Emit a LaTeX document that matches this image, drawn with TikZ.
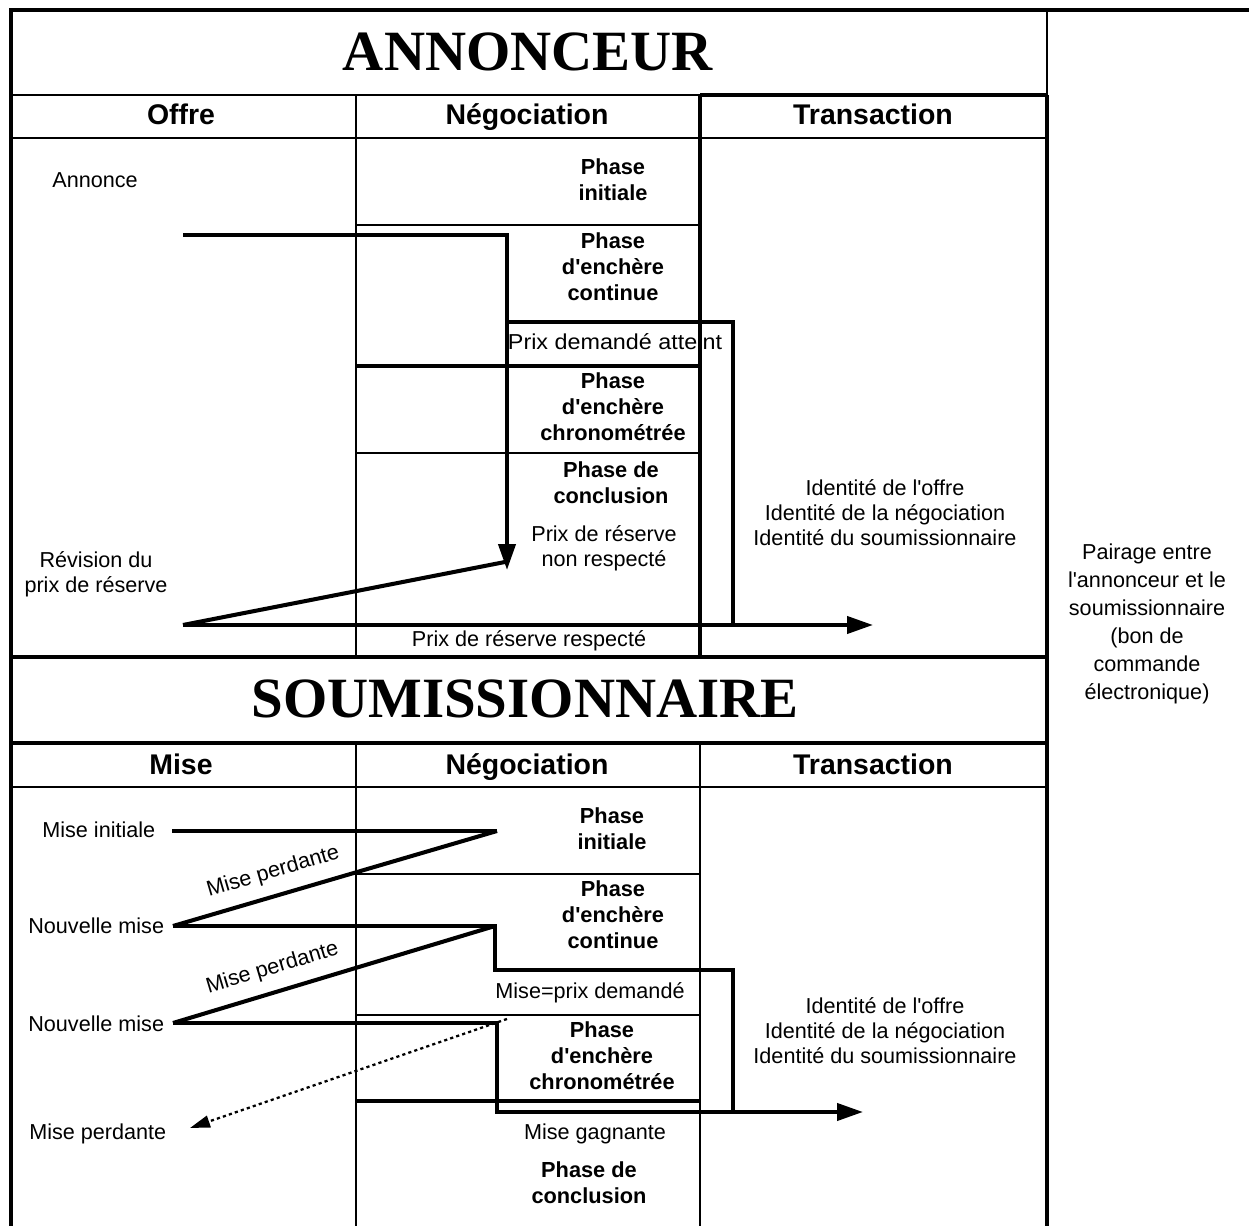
\documentclass[tikz,border=0pt]{standalone}
\usepackage{fontspec}
\setmainfont{Liberation Sans}[Ligatures=TeXOff]
\newfontfamily\titlefont{Liberation Serif}
\usetikzlibrary{arrows.meta}
\begin{document}
\begin{tikzpicture}[x=0.02cm,y=-0.02cm,
  txt/.style={font=\fontsize{12.3}{14.2}\selectfont, align=center, inner sep=0pt},
  txttwo/.style={font=\fontsize{12.3}{15.9}\selectfont, align=center, inner sep=0pt},
  phase/.style={font=\bfseries\fontsize{12.4}{14.8}\selectfont, align=center, inner sep=0pt},
  head/.style={font=\bfseries\fontsize{16.2}{19}\selectfont, inner sep=0pt, anchor=base},
  ttl/.style={font=\titlefont\bfseries\fontsize{32.4}{38}\selectfont, inner sep=0pt, anchor=base},
  frameline/.style={line width=2pt},
  gline/.style={line width=1.4pt},
  hline/.style={line width=2pt},
  flowline/.style={line width=2.3pt},
  tiparrow/.style={-{Triangle[length=0.52cm,width=0.34cm]}},
  dotline/.style={line width=1.3pt, dash pattern=on 1.8pt off 1.8pt},
  smalltip/.style={-{Triangle[length=0.4cm,width=0.24cm]}},
  lbl/.style={txt, sloped, pos=0.33, above=0.23cm}
]
\useasboundingbox (0,0) rectangle (1249,1226);
\fill[white] (0,0) rectangle (1249,1226);

% ---------- table grid ----------
\draw[frameline] (1249,10) -- (11,10) -- (11,1226);
\draw[gline] (1047,10) -- (1047,95);
\draw[gline] (11,95) -- (700,95);
\draw[hline] (700,95) -- (1047,95);
\draw[gline] (11,138) -- (1047,138);
\draw[gline] (356,95) -- (356,657);
\draw[hline] (700,95) -- (700,657);
\draw[hline] (1047,95) -- (1047,1226);
\draw[gline] (356,225) -- (700,225);
\draw[hline] (356,366) -- (700,366);
\draw[gline] (356,453) -- (700,453);
\draw[frameline] (11,657) -- (1047,657);
\draw[frameline] (11,743) -- (1047,743);
\draw[gline] (11,787) -- (1047,787);
\draw[gline] (356,743) -- (356,1226);
\draw[gline] (700,743) -- (700,1226);
\draw[gline] (356,874) -- (700,874);
\draw[gline] (356,1015) -- (700,1015);
\draw[hline] (356,1101) -- (700,1101);

% ---------- titles and headers ----------
\node[ttl] (tA) at (528,71) {ANNONCEUR};
\node[ttl] (tS) at (525,718) {SOUMISSIONNAIRE};
\node[head] (h1) at (181,125) {Offre};
\node[head] (h2) at (527,125) {Négociation};
\node[head] (h3) at (873,125) {Transaction};
\node[head] (h4) at (181,775) {Mise};
\node[head] (h5) at (527,775) {Négociation};
\node[head] (h6) at (873,775) {Transaction};

% ---------- annonceur texts ----------
\node[txt, anchor=base west] (annonce) at (52,188) {Annonce};
\node[phase] (pi1) at (613,180) {Phase\\initiale};
\node[phase] (pc1) at (613,267) {Phase\\d'enchère\\continue};
\node[txt] (pda) at (615,342) {\scalebox{1.08}[1]{Prix demandé atteint}};
\node[phase] (pch1) at (613,407) {Phase\\d'enchère\\chronométrée};
\node[phase] (pcl1) at (611,483) {Phase de\\conclusion};
\node[txt] (prnr) at (604,548) {Prix de réserve\\non respecté};
\node[txt, anchor=base] (prr) at (529,647) {Prix de réserve respecté};
\node[txt] (rev) at (96,574) {Révision du\\prix de réserve};
\node[txt] (id1) at (885,513) {Identité de l'offre\\Identité de la négociation\\Identité du soumissionnaire};
\node[txttwo] (pair) at (1147,624) {Pairage entre\\l'annonceur et le\\soumissionnaire\\(bon de\\commande\\électronique)};

% ---------- soumissionnaire texts ----------
\node[txt, anchor=base west] (mi) at (42,838) {Mise initiale};
\node[txt, anchor=base west] (nm1) at (28,933) {Nouvelle mise};
\node[txt, anchor=base west] (nm2) at (28,1031) {Nouvelle mise};
\node[txt, anchor=base west] (mp) at (29,1139) {Mise perdante};
\node[phase] (pi2) at (612,829) {Phase\\initiale};
\node[phase] (pc2) at (613,915) {Phase\\d'enchère\\continue};
\node[txt, anchor=base] (mpd) at (590,998) {Mise=prix demandé};
\node[phase] (pch2) at (602,1056) {Phase\\d'enchère\\chronométrée};
\node[txt, anchor=base] (mg) at (595,1139) {Mise gagnante};
\node[phase] (pcl2) at (589,1183) {Phase de\\conclusion};
\node[txt] (id2) at (885,1031) {Identité de l'offre\\Identité de la négociation\\Identité du soumissionnaire};

% ---------- flow coordinates ----------
\coordinate (a0) at (183,235);
\coordinate (a1) at (507,235);
\coordinate (a2) at (507,570);
\coordinate (b0) at (507,322);
\coordinate (b1) at (733,322);
\coordinate (b2) at (733,625);
\coordinate (r0) at (183,625);
\coordinate (r1) at (873,625);
\coordinate (d1) at (505,562);

\coordinate (c0) at (172,831);
\coordinate (c1) at (497,831);
\coordinate (e0) at (173,926);
\coordinate (e1) at (495,926);
\coordinate (e2) at (495,970);
\coordinate (e3) at (733,970);
\coordinate (e4) at (733,1112);
\coordinate (f0) at (173,1023);
\coordinate (f1) at (497,1023);
\coordinate (f2) at (497,1112);
\coordinate (f3) at (863,1112);
\coordinate (g0) at (507,1019);
\coordinate (g1) at (190,1128);

% ---------- flows ----------
\draw[flowline, tiparrow] (a0) -- (a1) -- (a2);
\draw[flowline] (b0) -- (b1) -- (b2);
\draw[flowline] (r0) -- (d1);
\draw[flowline, tiparrow] (r0) -- (r1);

\draw[flowline] (c0) -- (c1);
\draw[flowline] (e0) -- node[lbl] {Mise perdante} (c1);
\draw[flowline] (e0) -- (e1) -- (e2) -- (e3) -- (e4);
\draw[flowline] (f0) -- node[lbl] {Mise perdante} (e1);
\draw[flowline, tiparrow] (f0) -- (f1) -- (f2) -- (f3);
\draw[dotline, smalltip] (g0) -- (g1);
\end{tikzpicture}
\end{document}
